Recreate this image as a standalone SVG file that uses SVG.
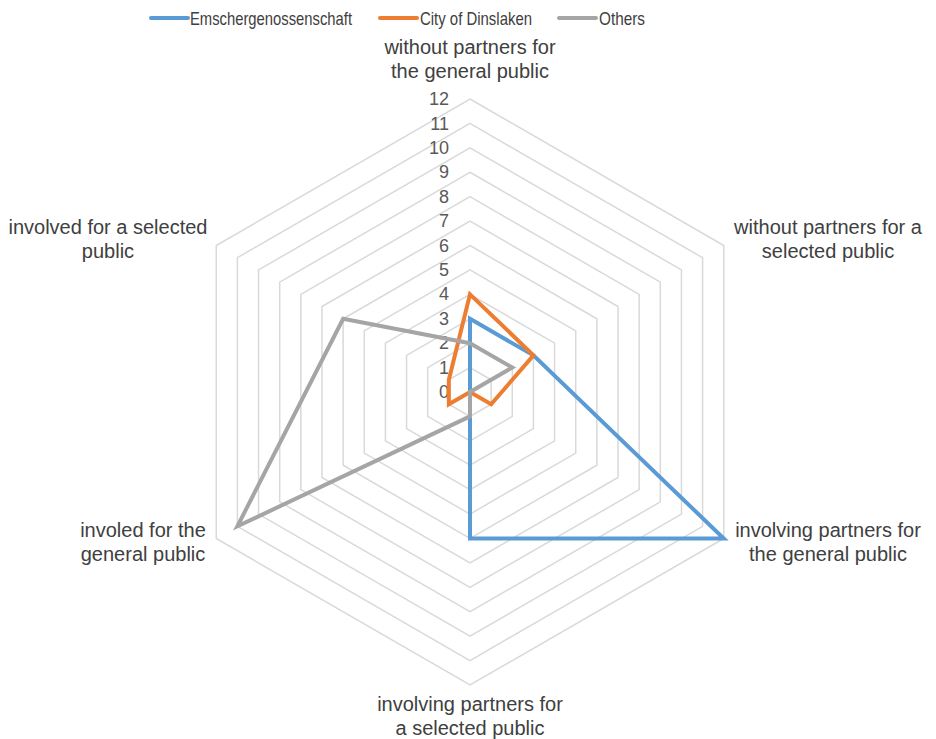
<svg xmlns="http://www.w3.org/2000/svg" width="936" height="739" viewBox="0 0 936 739">
<style>
text{font-family:"Liberation Sans",Arial,sans-serif;fill:#404040;font-size:18px}
.grid{fill:none;stroke:#d9d9d9;stroke-width:1.5}
.s{fill:none;stroke-width:4;stroke-linejoin:miter}
.num{text-anchor:end;fill:#595959}
.cat{text-anchor:middle;font-size:20px}
.leg{font-size:18.5px}
</style>
<rect width="936" height="739" fill="#ffffff"/>
<g id="grid" transform="translate(470,392)">
<polygon class="grid" points="0,-24.42 21.15,-12.21 21.15,12.21 0,24.42 -21.15,12.21 -21.15,-12.21"/>
<polygon class="grid" points="0,-48.83 42.29,-24.42 42.29,24.42 0,48.83 -42.29,24.42 -42.29,-24.42"/>
<polygon class="grid" points="0,-73.25 63.44,-36.63 63.44,36.63 0,73.25 -63.44,36.63 -63.44,-36.63"/>
<polygon class="grid" points="0,-97.67 84.58,-48.83 84.58,48.83 0,97.67 -84.58,48.83 -84.58,-48.83"/>
<polygon class="grid" points="0,-122.08 105.73,-61.04 105.73,61.04 0,122.08 -105.73,61.04 -105.73,-61.04"/>
<polygon class="grid" points="0,-146.5 126.87,-73.25 126.87,73.25 0,146.5 -126.87,73.25 -126.87,-73.25"/>
<polygon class="grid" points="0,-170.92 148.02,-85.46 148.02,85.46 0,170.92 -148.02,85.46 -148.02,-85.46"/>
<polygon class="grid" points="0,-195.33 169.16,-97.67 169.16,97.67 0,195.33 -169.16,97.67 -169.16,-97.67"/>
<polygon class="grid" points="0,-219.75 190.31,-109.88 190.31,109.88 0,219.75 -190.31,109.88 -190.31,-109.88"/>
<polygon class="grid" points="0,-244.17 211.45,-122.08 211.45,122.08 0,244.17 -211.45,122.08 -211.45,-122.08"/>
<polygon class="grid" points="0,-268.58 232.6,-134.29 232.6,134.29 0,268.58 -232.6,134.29 -232.6,-134.29"/>
<polygon class="grid" points="0,-293 253.75,-146.5 253.75,146.5 0,293 -253.75,146.5 -253.75,-146.5"/>
</g>
<g id="axis-values">
<text class="num" x="449" y="398">0</text>
<text class="num" x="449" y="374">1</text>
<text class="num" x="449" y="349">2</text>
<text class="num" x="449" y="325">3</text>
<text class="num" x="449" y="300">4</text>
<text class="num" x="449" y="276">5</text>
<text class="num" x="449" y="252">6</text>
<text class="num" x="449" y="227">7</text>
<text class="num" x="449" y="203">8</text>
<text class="num" x="449" y="178">9</text>
<text class="num" x="449" y="154">10</text>
<text class="num" x="449" y="130">11</text>
<text class="num" x="449" y="105">12</text>
</g>
<g id="series" transform="translate(470,392)">
<polygon class="s" stroke="#5b9bd5" points="0,-73.25 63.44,-36.63 253.75,146.5 0,146.5 0,0 0,0"/>
<polygon class="s" stroke="#ed7d31" points="0,-97.67 63.44,-36.63 21.15,12.21 0,0 -21.15,12.21 -21.15,-12.21"/>
<polygon class="s" stroke="#a5a5a5" points="0,-48.83 42.29,-24.42 0,0 0,24.42 -232.6,134.29 -126.87,-73.25"/>
</g>
<g id="categories">
<g id="cat-top"><text class="cat" x="470" y="54">without partners for</text><text class="cat" x="470" y="78">the general public</text></g>
<g id="cat-ur"><text class="cat" x="828" y="234">without partners for a</text><text class="cat" x="828" y="258">selected public</text></g>
<g id="cat-lr"><text class="cat" x="828" y="537">involving partners for</text><text class="cat" x="828" y="561">the general public</text></g>
<g id="cat-b"><text class="cat" x="470" y="711">involving partners for</text><text class="cat" x="470" y="735">a selected public</text></g>
<g id="cat-ll"><text class="cat" x="143" y="537">involed for the</text><text class="cat" x="143" y="561">general public</text></g>
<g id="cat-ul"><text class="cat" x="108" y="234">involved for a selected</text><text class="cat" x="108" y="258">public</text></g>
</g>
<g id="legend">
<line x1="151" y1="18" x2="188" y2="18" stroke="#5b9bd5" stroke-width="4" stroke-linecap="round"/>
<text class="leg" x="190" y="25" textLength="162" lengthAdjust="spacingAndGlyphs">Emschergenossenschaft</text>
<line x1="380" y1="18" x2="417" y2="18" stroke="#ed7d31" stroke-width="4" stroke-linecap="round"/>
<text class="leg" x="420" y="25" textLength="112" lengthAdjust="spacingAndGlyphs">City of Dinslaken</text>
<line x1="559" y1="18" x2="596" y2="18" stroke="#a5a5a5" stroke-width="4" stroke-linecap="round"/>
<text class="leg" x="599" y="25" textLength="46" lengthAdjust="spacingAndGlyphs">Others</text>
</g>
</svg>
